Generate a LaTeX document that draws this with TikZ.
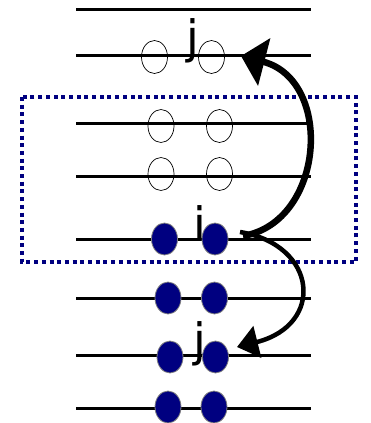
\documentclass[tikz,border=0pt]{standalone}
\usepackage{fontspec}
\setmainfont{DejaVu Sans}
\usetikzlibrary{shapes.geometric,arrows.meta}
\definecolor{navyb}{RGB}{0,0,128}
\tikzset{
  rung/.style={line width=3pt},
  hole/.style={ellipse,draw=black,line width=0.7pt,minimum width=26pt,minimum height=33pt,inner sep=0pt},
  part/.style={ellipse,fill=navyb,draw=gray,line width=0.8pt,minimum width=26pt,minimum height=32pt,inner sep=0pt},
  lab/.style={anchor=base,inner sep=0pt,font=\fontsize{46}{50}\selectfont},
  frame/.style={draw=navyb,line width=4pt,dash pattern=on 4pt off 3.7pt},
  hop/.style={line width=6.5pt,-{Triangle[length=24pt 0,width=48pt 0,fill=black]}},
  hopb/.style={line width=4.5pt,-{Triangle[length=21pt 0,width=32pt 0,fill=black]}}
}
\begin{document}
\begin{tikzpicture}[x=1pt,y=-1pt]
\useasboundingbox (0,0) rectangle (371,423);
% rungs
\foreach \n/\y in {1/9,2/55,3/123,4/176,5/239,6/298,7/355,8/408}{
  \coordinate (a\n) at (76,\y);
  \coordinate (b\n) at (311,\y);
  \draw[rung] (a\n) -- (b\n);
}
% frame
\coordinate (f1) at (22,97);
\coordinate (f2) at (356,262);
\draw[frame] (f1) rectangle (f2);
% empty sites
\node[hole] (h1) at (154.5,57) {};
\node[hole] (h2) at (211.5,57) {};
\node[hole] (h3) at (161,126) {};
\node[hole] (h4) at (219.5,126) {};
\node[hole] (h5) at (161,174) {};
\node[hole] (h6) at (219.5,174) {};
% particles
\node[part] (p1) at (164.5,239) {};
\node[part] (p2) at (215,239) {};
\node[part] (p3) at (168,298) {};
\node[part] (p4) at (214.5,298) {};
\node[part] (p5) at (170,357) {};
\node[part] (p6) at (215.5,357) {};
\node[part] (p7) at (168,407) {};
\node[part] (p8) at (214,407) {};
% labels
\node[lab] (jt) at (192.5,53) {j};
\node[lab] (im) at (200,240) {i};
\node[lab] (jb) at (200,356) {j};
% arrows
\coordinate (s1) at (243,236);
\coordinate (e1) at (241,56);
\coordinate (s2) at (240,232);
\coordinate (e2) at (237,347);
\draw[hop] (s1) .. controls (325,222) and (334,80) .. (e1);
\draw[hopb] (s2) .. controls (318,245) and (325,325) .. (e2);
\end{tikzpicture}
\end{document}
